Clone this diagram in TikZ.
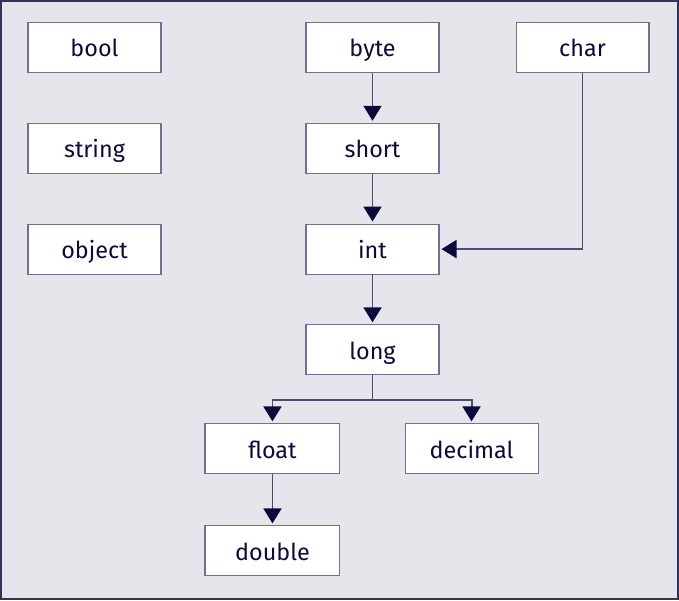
\documentclass[tikz,border=0pt]{standalone}
\usepackage{fontspec}
\setsansfont{Fira Sans}
\usetikzlibrary{positioning,arrows.meta}

\definecolor{bg}{HTML}{E6E5EC}
\definecolor{frame}{HTML}{33335A}
\definecolor{boxline}{HTML}{707092}
\definecolor{wire}{HTML}{4C4C76}
\definecolor{ink}{HTML}{0B0B3B}

\begin{document}
\begin{tikzpicture}[x=0.02cm,y=-0.02cm,
	node distance=0.995cm and 2.88cm,
	box/.style={draw=boxline, line width=0.6pt, fill=white, text=ink,
		minimum width=2.66cm, minimum height=1cm, inner sep=0pt,
		text height=10.6pt, text depth=0pt,
		font=\sffamily\fontsize{13.3}{15}\selectfont},
	arr/.style={draw=wire, line width=1.1pt,
		-{Triangle[length=0.3cm,width=0.36cm,color=ink]}, shorten >=0.04cm}
	]
	\useasboundingbox (0,0) rectangle (679,600);
	\draw[fill=bg, draw=frame, line width=1.2pt] (1,1) rectangle (678,599);

	\node[box] (bool) at (94.5,47.5) {bool};
	\node[box, below=of bool] (string) {string};
	\node[box, below=of string] (object) {object};

	\node[box, right=of bool] (byte) {byte};
	\node[box, below=of byte] (short) {short};
	\node[box, below=of short] (int) {int};
	\node[box, below=of int] (long) {long};
	\node[box, right=1.52cm of byte] (char) {char};

	\node[box, minimum width=2.7cm, below left=0.96cm and -0.7cm of long] (float) {float};
	\node[box, below right=0.96cm and -0.7cm of long] (decimal) {decimal};
	\node[box, minimum width=2.7cm, below=1.02cm of float] (double) {double};

	% arrows
	\draw[arr] (byte) -- (short);
	\draw[arr] (short) -- (int);
	\draw[arr] (int) -- (long);
	\draw[arr] (char.south) |- (int.east);
	\coordinate (split) at ([yshift=-0.5cm]long.south);
	\draw[arr] (long.south) -- (split) -| (float.north);
	\draw[arr] (split) -| (decimal.north);
	\draw[arr] (float) -- (double);
\end{tikzpicture}
\end{document}
